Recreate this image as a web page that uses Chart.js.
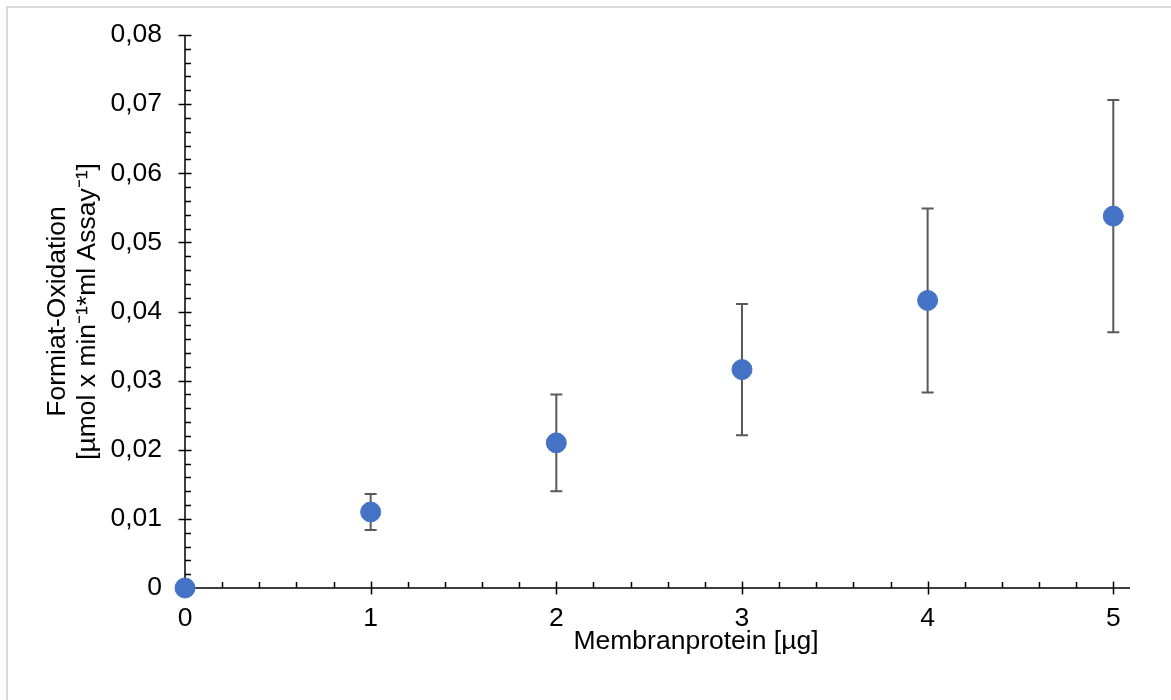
<!DOCTYPE html>
<html>
<head>
<meta charset="utf-8">
<script src="https://cdn.jsdelivr.net/npm/chart.js@4"></script>
<style>
  html, body { margin: 0; padding: 0; background: #fff; }
  #wrap { width: 1171px; height: 700px; position: relative; }
</style>
</head>
<body>
<div id="wrap"><canvas id="oxChart"></canvas></div>
<script>
// data
const protein = [0, 1, 2, 3, 4, 5];                                  // µg membrane protein
const oxidation = [0, 0.0110, 0.0210, 0.0316, 0.0416, 0.0538];       // µmol/min/ml
const oxErr = [0, 0.0026, 0.0070, 0.0095, 0.0133, 0.0168];
const yTicks = [0, 0.01, 0.02, 0.03, 0.04, 0.05, 0.06, 0.07, 0.08];
const xTicks = [0, 1, 2, 3, 4, 5];
const yTitle = ['Formiat-Oxidation', '[µmol x min⁻¹*ml Assay⁻¹]'];
const xTitle = 'Membranprotein [µg]';

const FONT = "'Liberation Sans', Arial, sans-serif";
const FSIZE = 26.5;

// axes, tick marks, error bars, frame
const extras = {
  id: 'extras',
  beforeDatasetsDraw(chart) {
    const ctx = chart.ctx;
    const xs = chart.scales.x, ys = chart.scales.y;
    const x0 = xs.getPixelForValue(0), y0 = ys.getPixelForValue(0);
    ctx.save();

    // frame (cropped, only top and left visible)
    ctx.strokeStyle = '#d9d9d9';
    ctx.lineWidth = 2;
    ctx.beginPath();
    ctx.moveTo(7, 700); ctx.lineTo(7, 7); ctx.lineTo(1171, 7);
    ctx.stroke();

    ctx.strokeStyle = '#000';
    ctx.lineWidth = 1.5;
    ctx.beginPath();
    // y axis
    ctx.moveTo(x0, ys.getPixelForValue(0.08)); ctx.lineTo(x0, y0);
    // x axis
    ctx.moveTo(x0, y0); ctx.lineTo(chart.chartArea.right, y0);
    ctx.stroke();

    ctx.beginPath();
    for (let i = 0; i <= 40; i++) {
      const py = Math.round(ys.getPixelForValue(i * 0.002)) + 0.5;
      if (i % 5 === 0) { ctx.moveTo(x0 - 6.5, py); ctx.lineTo(x0 + 6.5, py); }
      else { ctx.moveTo(x0, py); ctx.lineTo(x0 + 6, py); }
    }
    for (let i = 0; i <= 25; i++) {
      const px = Math.round(xs.getPixelForValue(i * 0.2)) + 0.5;
      if (i % 5 === 0) { ctx.moveTo(px, y0 - 6.5); ctx.lineTo(px, y0 + 6.5); }
      else { ctx.moveTo(px, y0); ctx.lineTo(px, y0 - 6); }
    }
    ctx.stroke();

    // error bars
    ctx.strokeStyle = '#595959';
    ctx.lineWidth = 2;
    ctx.beginPath();
    protein.forEach((p, i) => {
      if (!oxErr[i]) return;
      const px = xs.getPixelForValue(p);
      const top = ys.getPixelForValue(oxidation[i] + oxErr[i]);
      const bot = ys.getPixelForValue(oxidation[i] - oxErr[i]);
      ctx.moveTo(px, top); ctx.lineTo(px, bot);
      ctx.moveTo(px - 6, top); ctx.lineTo(px + 6, top);
      ctx.moveTo(px - 6, bot); ctx.lineTo(px + 6, bot);
    });
    ctx.stroke();

    // x axis title (offset to the right like the original)
    ctx.fillStyle = '#000';
    ctx.font = FSIZE + 'px ' + FONT;
    ctx.textAlign = 'center';
    ctx.textBaseline = 'middle';
    ctx.fillText(xTitle, 696, 642);
    ctx.restore();
  }
};

new Chart(document.getElementById('oxChart'), {
  type: 'scatter',
  data: {
    datasets: [{
      label: 'Formiat-Oxidation',
      data: protein.map((p, i) => ({ x: p, y: oxidation[i] })),
      backgroundColor: '#4472c4',
      borderColor: '#4472c4',
      pointRadius: 10,
      pointHoverRadius: 10,
      clip: false
    }]
  },
  options: {
    responsive: true,
    maintainAspectRatio: false,
    animation: false,
    layout: { padding: { left: 0, top: 35, right: 41, bottom: 0 } },
    plugins: { legend: { display: false }, tooltip: { enabled: false } },
    scales: {
      x: {
        type: 'linear',
        min: 0,
        max: 5.09,
        afterBuildTicks: (s) => { s.ticks = xTicks.map(v => ({ value: v })); },
        afterFit: (s) => { s.height = 112; s.paddingLeft = 0; s.paddingRight = 0; },
        grid: { display: false, drawTicks: false },
        border: { display: false },
        ticks: { padding: 15, color: '#000', font: { family: FONT, size: FSIZE }, maxRotation: 0 }
      },
      y: {
        min: 0,
        max: 0.08,
        afterBuildTicks: (s) => { s.ticks = yTicks.map(v => ({ value: v })); },
        afterFit: (s) => { s.width = 185; s.paddingTop = 0; s.paddingBottom = 0; },
        grid: { display: false, drawTicks: false },
        border: { display: false },
        ticks: {
          padding: 23,
          color: '#000',
          font: { family: FONT, size: FSIZE },
          callback: (v) => v === 0 ? '0' : v.toFixed(2).replace('.', ',')
        },
        title: {
          display: true,
          text: yTitle,
          color: '#000',
          font: { family: FONT, size: FSIZE, lineHeight: 1.15 },
          padding: { top: 42, bottom: 0 }
        }
      }
    }
  },
  plugins: [extras]
});
</script>
</body>
</html>
